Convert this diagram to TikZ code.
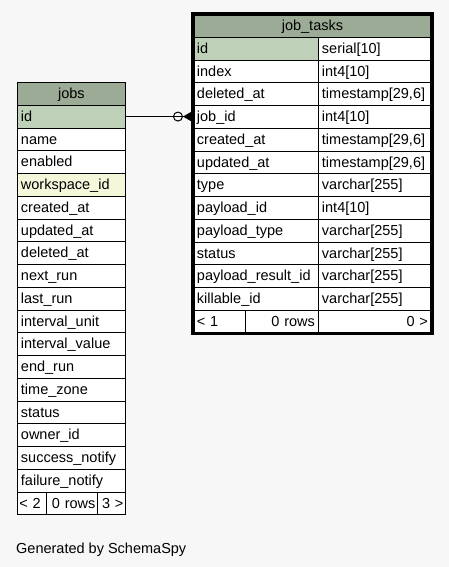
\documentclass[tikz,border=0pt]{standalone}
\usepackage{fontspec}
\setmainfont{Liberation Sans}
\usetikzlibrary{matrix,positioning,arrows.meta,fit}
\definecolor{headbg}{HTML}{9BAB96}
\definecolor{pkbg}{HTML}{BED1B8}
\definecolor{fkbg}{HTML}{F4F7DA}
\definecolor{pagebg}{HTML}{F7F7F7}

\begin{document}
\begin{tikzpicture}[
    x=1pt, y=1pt,
    font=\fontsize{14.5pt}{17pt}\selectfont,
    cell/.style={
        draw,
        fill=white,
        line width=0.9pt,
        minimum height=22.75pt,
        inner xsep=3.5pt,
        inner ysep=0pt,
        text height=9.5pt,
        text depth=0pt,
        align=left,
        anchor=center
        },
    tmatrix/.style={
        matrix of nodes,
        nodes={cell},
        line width=0.9pt,
        column sep=-\pgflinewidth,
        row sep=-\pgflinewidth,
        inner sep=0pt,
        outer sep=0pt
    },
    thead/.style={cell, fill=headbg, align=center},
    tfoot/.style={cell, align=right},
]

% page
\fill[pagebg] (0,0) rectangle (449,-567);
\useasboundingbox (0,0) rectangle (449,-567);

% Table job_tasks (12 columns)
\matrix[tmatrix, anchor=north west,
    column 1/.style={nodes={text width=118pt}},
    column 2/.style={nodes={text width=106pt}}] (T) at (193,-36.75) {
    |[fill=pkbg]| id & serial[10] \\
    index & int4[10] \\
    deleted\_at & timestamp[29,6] \\
    job\_id & int4[10] \\
    created\_at & timestamp[29,6] \\
    updated\_at & timestamp[29,6] \\
    type & varchar[255] \\
    payload\_id & int4[10] \\
    payload\_type & varchar[255] \\
    status & varchar[255] \\
    payload\_result\_id & varchar[255] \\
    killable\_id & varchar[255] \\
};
\node[thead, minimum width=238pt, above=-0.9pt of T] (T-head) {job\_tasks};
\node[tfoot, text width=45pt, align=left, below right=-0.9pt and 0pt of T.south west] (T-f1) {< 1};
\node[tfoot, text width=66pt, right=-0.9pt of T-f1] (T-f2) {0 rows};
\node[tfoot, text width=106pt, right=-0.9pt of T-f2] (T-f3) {0 >};

% Table jobs (17 columns)
\matrix[tmatrix, anchor=north west,
    column 1/.style={nodes={text width=101pt}}] (J) at (17,-104.75) {
    |[fill=pkbg]| id \\
    name \\
    enabled \\
    |[fill=fkbg]| workspace\_id \\
    created\_at \\
    updated\_at \\
    deleted\_at \\
    next\_run \\
    last\_run \\
    interval\_unit \\
    interval\_value \\
    end\_run \\
    time\_zone \\
    status \\
    owner\_id \\
    success\_notify \\
    failure\_notify \\
};
\node[thead, minimum width=108pt, above=-0.9pt of J] (J-head) {jobs};
\node[tfoot, inner xsep=2pt, text width=25pt, align=left, below right=-0.9pt and 0pt of J.south west] (J-f1) {< 2};
\node[tfoot, inner xsep=2pt, text width=47pt, right=-0.9pt of J-f1] (J-f2) {0 rows};
\node[tfoot, inner xsep=2pt, text width=24pt, right=-0.9pt of J-f2] (J-f3) {3 >};

% draw outer boader
\node[draw, line width=3.5pt, inner sep=0pt, fit=(T-head)(T-f1)(T-f3)] (T-border) {};

% relation jobs.id -> job_tasks.job_id
\draw[line width=1pt, shorten >=1.5pt, -{Circle[open, length=10pt, width=10pt] Triangle[reversed, length=9pt, width=10pt]}]
    (J-1-1.east) -- (J-1-1.east -| T-4-1.west);

\node[anchor=west, inner sep=0pt, text height=9.5pt, text depth=0pt] (credit) at (16,-549) {Generated by SchemaSpy};

\end{tikzpicture}
\end{document}
